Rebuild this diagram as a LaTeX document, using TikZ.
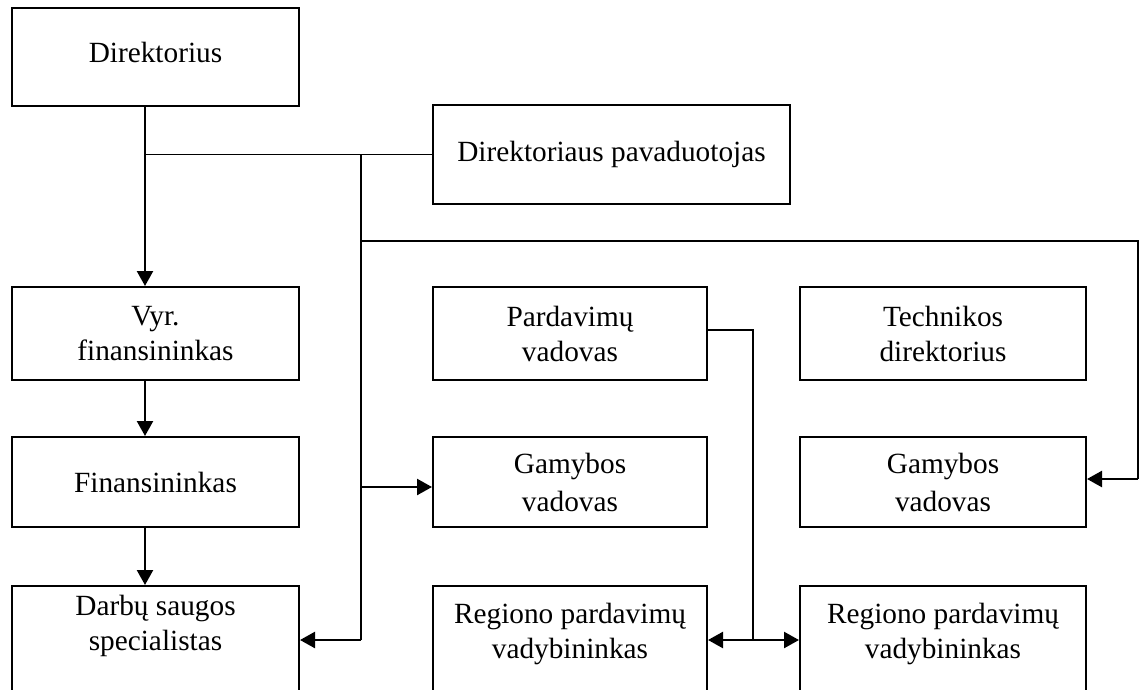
\documentclass[tikz,border=0pt]{standalone}
\usepackage{fontspec}
\setmainfont{Liberation Serif}
\usetikzlibrary{arrows.meta,calc}
\tikzset{
  box/.style={draw, line width=2pt, inner sep=0pt, align=center,
    font=\fontsize{29.3}{35}\selectfont},
  lbl/.style={inner sep=0pt, align=center, font=\fontsize{29.3}{35}\selectfont},
  thinln/.style={line width=1.6pt},
  thickln/.style={line width=2.4pt},
  tip/.tip={Triangle[width=16pt,length=15pt]}
}
\begin{document}
\begin{tikzpicture}[x=1pt,y=-1pt]
\useasboundingbox (0,0) rectangle (1141,689);
\clip (0,0) rectangle (1141,689);
% columns and rows
\coordinate (colA) at (145,0);
\coordinate (colB) at (361,0);
\coordinate (colC) at (753,0);
\coordinate (colD) at (1138,0);
\coordinate (rowMid) at (0,241);
\coordinate (rowPar) at (0,330);
\coordinate (rowGamR) at (0,479);
\coordinate (rowGam) at (0,487);
\coordinate (rowDar) at (0,640);
% boxes
\node[box, minimum width=287, minimum height=98, text depth=10pt] (dir) at (155.5,57) {Direktorius};
\node[box, minimum width=357, minimum height=99] (dep) at (611.5,154.5) {Direktoriaus pavaduotojas};
\node[box, minimum width=287, minimum height=93] (vyr) at (155.5,333.5) {Vyr.\\finansininkas};
\node[box, minimum width=274, minimum height=93] (par) at (570,333.5) {Pardavim\k{u}\\vadovas};
\node[box, minimum width=286, minimum height=93] (tech) at (943,333.5) {Technikos\\direktorius};
\node[box, minimum width=287, minimum height=90] (fin) at (155.5,482) {Finansininkas};
\node[box, minimum width=274, minimum height=90] (gamM) at (570,482) {Gamybos\\[3pt]vadovas};
\node[box, minimum width=286, minimum height=90] (gamR) at (943,482) {Gamybos\\[3pt]vadovas};
\node[box, minimum width=287, minimum height=130, anchor=north] (dar) at (155.5,585) {};
\node[box, minimum width=274, minimum height=130, anchor=north] (regM) at (570,585) {};
\node[box, minimum width=286, minimum height=130, anchor=north] (regR) at (943,585) {};
\node[lbl] (darT) at (155.5,625.5) {Darb\k{u} saugos\\specialistas};
\node[lbl] (regMT) at (570,633.5) {Regiono pardavim\k{u}\\vadybininkas};
\node[lbl] (regRT) at (943,633.5) {Regiono pardavim\k{u}\\vadybininkas};
% connectors
\draw[thickln,-tip] (dir.south -| colA) -- (vyr.north -| colA);
\draw[thinln] (colA |- dep.west) -- (dep.west);
\draw[thinln] (colB |- dep.west) -- (colB |- rowDar);
\draw[thickln,-tip] (colB |- rowDar) -- (dar.east |- rowDar);
\draw[thickln,-tip] (colB |- rowGam) -- (gamM.west |- rowGam);
\draw[thinln] (colB |- rowMid) -| (colD |- rowGamR);
\draw[thickln,-tip] (colD |- rowGamR) -- (gamR.east |- rowGamR);
\draw[thickln,-tip] (vyr.south -| colA) -- (fin.north -| colA);
\draw[thickln,-tip] (fin.south -| colA) -- (dar.north -| colA);
\draw[thinln] (par.east |- rowPar) -| (colC |- rowDar);
\draw[thickln,tip-tip] (regM.east |- rowDar) -- (regR.west |- rowDar);
\end{tikzpicture}
\end{document}
